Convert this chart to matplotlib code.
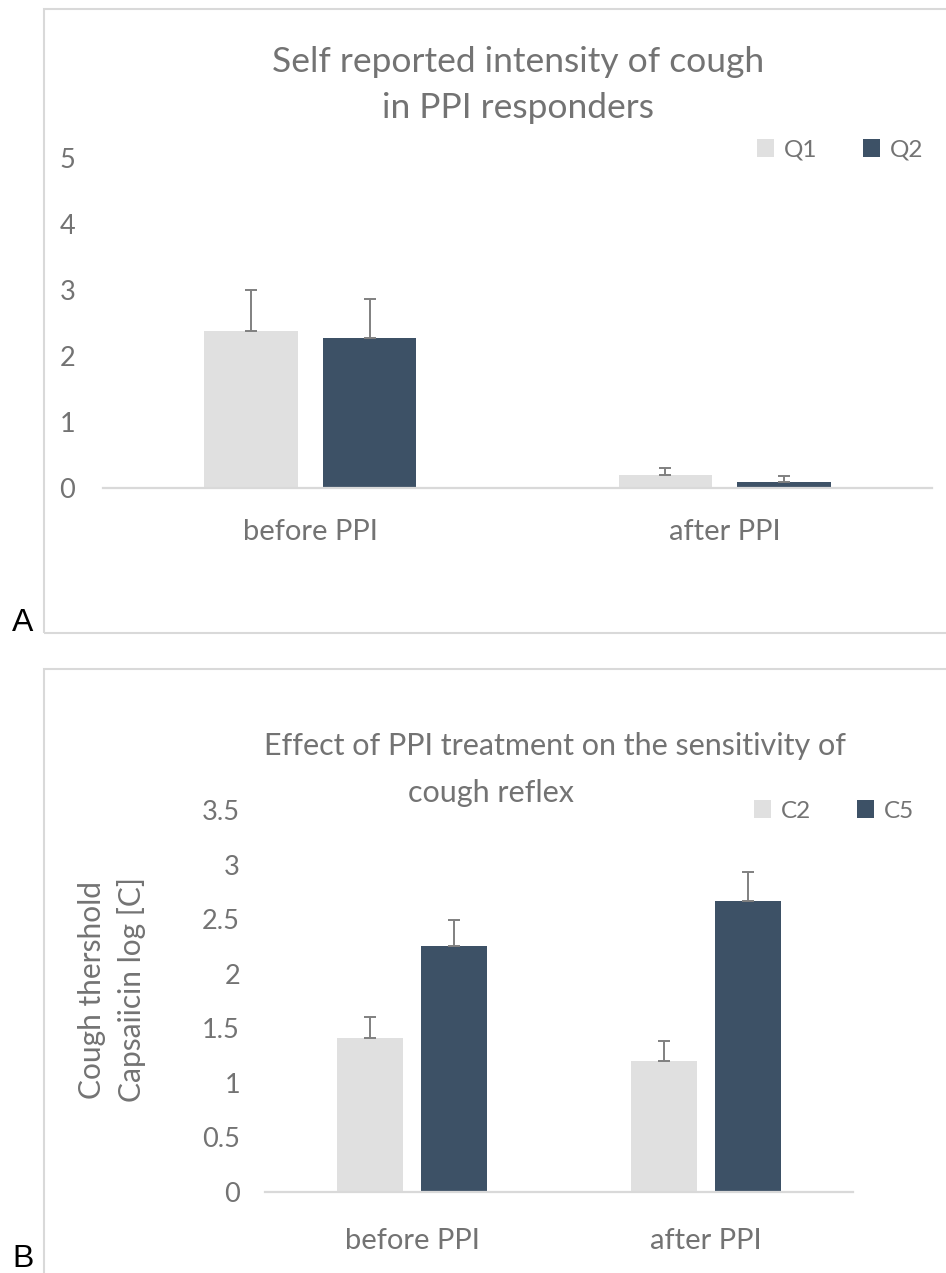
import matplotlib as mpl

mpl.use("Agg")
import matplotlib.pyplot as plt
import numpy as np
from matplotlib.patches import Rectangle

# Panel A: self reported cough intensity
groups_a = ["before PPI", "after PPI"]
q1_vals = [2.37, 0.20]
q1_err = [0.62, 0.11]
q2_vals = [2.27, 0.09]
q2_err = [0.59, 0.09]

# Panel B: cough reflex sensitivity
groups_b = ["before PPI", "after PPI"]
c2_vals = [1.41, 1.20]
c2_err = [0.19, 0.18]
c5_vals = [2.25, 2.67]
c5_err = [0.24, 0.26]

LIGHT = "#E0E0E0"
DARK = "#3D5166"
TEXT = "#737373"
LINE = "#D9D9D9"
ERR = "#808080"

plt.rcParams["font.family"] = ["Lato", "DejaVu Sans"]

W, H = 946, 1273
fig = plt.figure(figsize=(W / 100, H / 100), dpi=100)


def px_box(x0, y0, x1, y1):
    # pixel box (top-left origin) -> figure fraction [left, bottom, width, height]
    return [x0 / W, 1 - y1 / H, (x1 - x0) / W, (y1 - y0) / H]


# chart frames (they run off the right / bottom edge like the source)
for y0, y1 in ((9, 633), (669, 1290)):
    fig.patches.append(Rectangle((44 / W, 1 - y1 / H), 1.2, (y1 - y0) / H,
                                 transform=fig.transFigure, fill=False,
                                 edgecolor=LINE, linewidth=1.5, zorder=0))


def draw_panel(ax, groups, v1, e1, v2, e2, ymax, ystep, names, ypad, xpad):
    x = np.arange(len(groups))
    off, bw = 0.143, 0.225
    ax.bar(x - off, v1, bw, color=LIGHT, label=names[0], zorder=2)
    ax.bar(x + off, v2, bw, color=DARK, label=names[1], zorder=2)
    for xs, vals, errs in ((x - off, v1, e1), (x + off, v2, e2)):
        ax.errorbar(xs, vals, yerr=[np.zeros(len(errs)), errs], fmt="none",
                    ecolor=ERR, elinewidth=1.4, capsize=4, capthick=1.4, zorder=3)
    ax.set_xlim(-0.5, len(groups) - 0.5)
    ax.set_ylim(0, ymax)
    ticks = np.arange(0, ymax + 1e-9, ystep)
    ax.set_yticks(ticks)
    ax.set_yticklabels([f"{t:g}" for t in ticks])
    ax.set_xticks(x)
    ax.set_xticklabels(groups)
    for s in ("top", "right", "left"):
        ax.spines[s].set_visible(False)
    ax.spines["bottom"].set_color(LINE)
    ax.spines["bottom"].set_linewidth(1.6)
    ax.tick_params(axis="y", length=0, pad=ypad, labelsize=19.5, labelcolor=TEXT)
    ax.tick_params(axis="x", length=0, pad=xpad, labelsize=21, labelcolor=TEXT)


ax_a = fig.add_axes(px_box(103, 157.5, 932, 488))
draw_panel(ax_a, groups_a, q1_vals, q1_err, q2_vals, q2_err, 5, 1, ("Q1", "Q2"), 20, 22)
ax_b = fig.add_axes(px_box(265, 810, 853, 1192))
draw_panel(ax_b, groups_b, c2_vals, c2_err, c5_vals, c5_err, 3.5, 0.5, ("C2", "C5"), 18, 26)

# titles
fig.text(518 / W, 1 - 85 / H, "Self reported intensity of cough\nin PPI responders",
         ha="center", va="center", fontsize=25.5, color=TEXT, linespacing=1.5)
fig.text(555 / W, 1 - 746 / H, "Effect of PPI treatment on the sensitivity of",
         ha="center", va="center", fontsize=22, color=TEXT)
fig.text(491 / W, 1 - 793 / H, "cough reflex",
         ha="center", va="center", fontsize=22, color=TEXT)

# y label panel B
fig.text(112 / W, 1 - 990 / H, "Cough thershold\nCapsaiicin log [C]", rotation=90,
         ha="center", va="center", fontsize=21.5, color=TEXT, linespacing=1.45)

# legends
for ax, cx, cy in ((ax_a, 840, 150), (ax_b, 834, 811)):
    ax.legend(loc="center", bbox_to_anchor=(cx / W, 1 - cy / H),
              bbox_transform=fig.transFigure, ncol=2, frameon=False,
              fontsize=17.5, labelcolor=TEXT, handlelength=0.7, handleheight=0.7,
              handletextpad=0.4, columnspacing=1.9)

# panel letters
fig.text(12 / W, 1 - 631 / H, "A", fontsize=23, family="Liberation Sans", color="black")
fig.text(12 / W, 1 - 1267 / H, "B", fontsize=23, family="Liberation Sans", color="black")

fig.savefig("out.png", dpi=100)
